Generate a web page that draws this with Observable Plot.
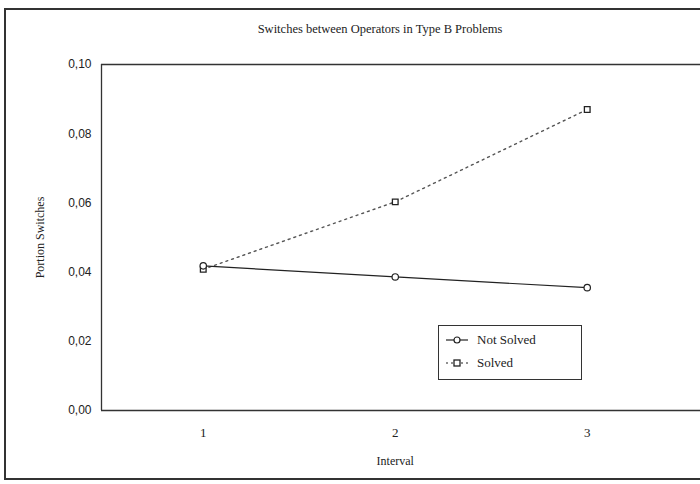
<!DOCTYPE html>
<html>
<head>
<meta charset="utf-8">
<script src="https://cdn.jsdelivr.net/npm/d3@7"></script>
<script src="https://cdn.jsdelivr.net/npm/@observablehq/plot@0.6"></script>
<style>
  html, body { margin: 0; padding: 0; background: #fff; }
  #wrap { position: relative; width: 700px; height: 484px; overflow: hidden; background: #fff; }
  #frame { position: absolute; left: 4px; top: 8px; width: 720px; height: 472px; border: 2px solid #333; box-sizing: border-box; }
  #title { position: absolute; left: 180px; width: 400px; top: 22px; text-align: center; font-family: "Liberation Serif", serif; font-size: 12.5px; color: #222; }
  #legend { position: absolute; left: 438px; top: 325px; width: 144px; height: 55px; border: 1.5px solid #333; box-sizing: border-box; background: #fff; font-family: "Liberation Serif", serif; font-size: 13px; color: #222; }
  .row { position: absolute; left: 6px; height: 20px; display: flex; align-items: center; }
  .row span { margin-left: 8px; }
</style>
</head>
<body>
<div id="wrap">
  <div id="frame"></div>
  <div id="chart"></div>
  <div id="title">Switches between Operators in Type B Problems</div>
  <div id="legend"></div>
</div>
<script>
const intervals = [1, 2, 3];
const notSolved = [0.0418, 0.0386, 0.0355];
const solved = [0.0408, 0.0603, 0.0870];
const seriesNames = ["Not Solved", "Solved"];
const yTicks = [0, 0.02, 0.04, 0.06, 0.08, 0.10];
const xTicks = [1, 2, 3];
const xDomain = [0.47, 3.59];
const yDomain = [0, 0.10];

const rows = [];
intervals.forEach((x, i) => {
  rows.push({interval: x, value: notSolved[i], series: seriesNames[0]});
  rows.push({interval: x, value: solved[i], series: seriesNames[1]});
});
const ns = rows.filter(d => d.series === "Not Solved");
const so = rows.filter(d => d.series === "Solved");
const fmt = d => d.toFixed(2).replace(".", ",");

const chart = Plot.plot({
  width: 700,
  height: 484,
  marginTop: 64,
  marginBottom: 74,
  marginLeft: 101,
  marginRight: 0,
  style: {fontFamily: "Liberation Sans, sans-serif", fontSize: "12px", color: "#222", background: "transparent"},
  x: {domain: xDomain},
  y: {domain: yDomain},
  marks: [
    Plot.ruleY(yDomain, {stroke: "#333", strokeWidth: 1.3}),
    Plot.ruleX([xDomain[0]], {y1: yDomain[0], y2: yDomain[1], stroke: "#333", strokeWidth: 1.3}),
    Plot.axisY({ticks: yTicks, tickFormat: fmt, tickSize: 0, tickPadding: 10, label: null, fontSize: 12}),
    Plot.axisX({ticks: xTicks, tickFormat: d => String(d), tickSize: 0, tickPadding: 17, label: null, fontFamily: "Liberation Serif, serif", fontSize: 13}),
    Plot.text(["Interval"], {frameAnchor: "bottom", x: 2, dy: 54, fontFamily: "Liberation Serif, serif", fontSize: 12, fill: "#222"}),
    Plot.text(["Portion Switches"], {frameAnchor: "left", textAnchor: "middle", y: 0.05, dx: -61, rotate: -90, fontFamily: "Liberation Serif, serif", fontSize: 12, fill: "#222"}),
    Plot.line(so, {x: "interval", y: "value", stroke: "#555", strokeWidth: 1.4, strokeDasharray: "2,4"}),
    Plot.line(ns, {x: "interval", y: "value", stroke: "#222", strokeWidth: 1.2}),
    Plot.dot(so, {x: "interval", y: "value", symbol: "square", r: 3.2, fill: "#fff", stroke: "#222", strokeWidth: 1.3}),
    Plot.dot(ns, {x: "interval", y: "value", symbol: "circle", r: 3.2, fill: "#fff", stroke: "#222", strokeWidth: 1.2})
  ]
});
document.getElementById("chart").appendChild(chart);
chart.style.position = "absolute";
chart.style.left = "0px";
chart.style.top = "0px";

// legend
const legend = document.getElementById("legend");
seriesNames.forEach((name, i) => {
  const row = document.createElement("div");
  row.className = "row";
  row.style.top = (4 + i * 23) + "px";
  const dash = i === 0 ? "" : 'stroke-dasharray="2,3"';
  const sym = i === 0
    ? '<circle cx="12" cy="8" r="3" fill="#fff" stroke="#222" stroke-width="1.2"/>'
    : '<rect x="9" y="5" width="6" height="6" fill="#fff" stroke="#222" stroke-width="1.3"/>';
  row.innerHTML = `<svg width="24" height="16"><line x1="1" x2="23" y1="8" y2="8" stroke="#222" stroke-width="1.2" ${dash}/>${sym}</svg><span>${name}</span>`;
  legend.appendChild(row);
});
</script>
</body>
</html>
